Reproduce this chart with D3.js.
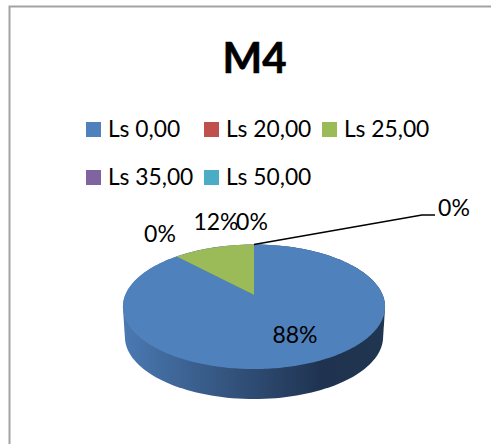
<!DOCTYPE html>
<html>
<head>
<meta charset="utf-8">
<script src="https://cdn.jsdelivr.net/npm/d3@7"></script>
<style>
  html, body { margin: 0; padding: 0; background: #fff; }
  svg { display: block; }
  text { font-family: Lato, Carlito, sans-serif; fill: #000; }
</style>
</head>
<body>
<script>
const chartTitle = "M4"
const categories = ["Ls 0,00", "Ls 20,00", "Ls 25,00", "Ls 35,00", "Ls 50,00"]
const shares = [88, 0, 12, 0, 0]
const colors = ["#4f81bd", "#c0504d", "#9bbb59", "#8064a2", "#4bacc6"]

const width = 491, height = 444
const svg = d3.select("body").append("svg")
  .attr("width", width)
  .attr("height", height)

// frame runs off the right and bottom of the crop
svg.append("path")
  .attr("d", `M${width + 5},6.5H9.5V${height + 5}`)
  .attr("fill", "none")
  .attr("stroke", "#a3a3a3")
  .attr("stroke-width", 2)

svg.append("text")
  .attr("x", 254.5)
  .attr("y", 73)
  .attr("text-anchor", "middle")
  .attr("font-weight", 700)
  .attr("font-size", 42)
  .attr("stroke", "#000")
  .attr("stroke-width", 0.6)
  .text(chartTitle)

// legend, three to a row
let legend = svg.selectAll(".legend")
  .data(categories)
  .enter()
  .append("g")
  .attr("class", "legend")
  .attr("transform", (d, i) => `translate(${86 + (i % 3) * 118},${122 + Math.floor(i / 3) * 48})`)

legend.append("rect")
  .attr("width", 15)
  .attr("height", 15)
  .attr("fill", (d, i) => colors[i])

legend.append("text")
  .attr("x", 22)
  .attr("y", 15)
  .attr("font-size", 22.8)
  .text(d => d)

// tilted disc: pie angle -> screen, with perspective so the back is squeezed
const cx = 254, apexY = 295, rx = 128.7
const persp = 0.1888, tilt = -4.35
function project(angle, r = 1, drop = 0, shrink = 1) {
  let u = r * Math.sin(angle), v = r * Math.cos(angle)
  let k = 1 + persp * v
  return [cx + shrink * rx * u / k, (apexY + tilt * v) / k + drop]
}

const depth = 30
const fullTurn = d3.range(0, 2 * Math.PI, Math.PI / 90)
const line = d3.line()

let defs = svg.append("defs")
let wall = defs.append("linearGradient")
  .attr("id", "wall")
  .attr("gradientUnits", "userSpaceOnUse")
  .attr("x1", 123).attr("x2", 385).attr("y1", 0).attr("y2", 0)
wall.append("stop").attr("offset", 0).attr("stop-color", "#4a79b2")
wall.append("stop").attr("offset", 0.76).attr("stop-color", "#1f3350")
wall.append("stop").attr("offset", 1).attr("stop-color", "#20354f")

// side wall is the hull of the top rim and the dropped rim
let rims = fullTurn.map(a => project(a))
  .concat(fullTurn.map(a => project(a, 1, depth, 0.985)))
svg.append("path")
  .attr("d", line(d3.polygonHull(rims)) + "Z")
  .attr("fill", "url(#wall)")

let slices = d3.pie().sort(null)(shares)

svg.selectAll(".slice")
  .data(slices)
  .enter()
  .append("path")
  .attr("class", "slice")
  .attr("fill", (d, i) => colors[i])
  .attr("d", d => {
    let steps = d3.range(d.startAngle, d.endAngle, Math.PI / 180).concat([d.endAngle])
    return line([project(0, 0)].concat(steps.map(a => project(a)))) + "Z"
  })

// leader for the last zero slice
svg.append("path")
  .attr("d", line([project(2 * Math.PI), [422, 215], [435, 215]]))
  .attr("fill", "none")
  .attr("stroke", "#000")
  .attr("stroke-width", 1.5)

const labelSpots = [[295, 343], [160, 242], [216, 230], [252, 230], [454, 216]]
svg.selectAll(".pct")
  .data(shares)
  .enter()
  .append("text")
  .attr("class", "pct")
  .attr("text-anchor", "middle")
  .attr("font-size", 23)
  .attr("x", (d, i) => labelSpots[i][0])
  .attr("y", (d, i) => labelSpots[i][1])
  .text(d => d + "%")
</script>
</body>
</html>
